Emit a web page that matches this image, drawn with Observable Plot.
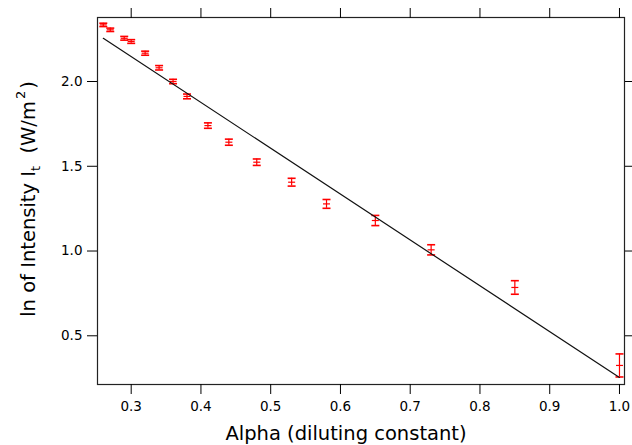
<!DOCTYPE html>
<html><head><meta charset="utf-8">
<script src="https://cdn.jsdelivr.net/npm/d3@7"></script>
<script src="https://cdn.jsdelivr.net/npm/@observablehq/plot@0.6"></script>
<style>body{margin:0;background:#fff}</style>
</head><body><div id="chart"></div>
<script>
const alpha = [0.26,0.27,0.29,0.30,0.32,0.34,0.36,0.38,0.41,0.44,0.48,0.53,0.58,0.65,0.73,0.85,1.00];
const lnI   = [2.334,2.305,2.255,2.236,2.167,2.081,2.000,1.912,1.740,1.642,1.524,1.406,1.278,1.180,1.007,0.785,0.325];
const err   = [0.010,0.010,0.011,0.011,0.012,0.013,0.013,0.014,0.016,0.018,0.019,0.023,0.026,0.030,0.030,0.040,0.068];
const fitX = [0.26, 1.00];
const fitY = [2.255, 0.254];
const xTicks = [0.3,0.4,0.5,0.6,0.7,0.8,0.9,1.0];
const yTicks = [0.5,1.0,1.5,2.0];

const data = alpha.map((a,i)=>({x:a, y:lnI[i], lo:lnI[i]-err[i], hi:lnI[i]+err[i]}));
const fit = fitX.map((x,i)=>({x, y:fitY[i]}));
const cap = {draw(ctx, size){ const r = Math.sqrt(size/Math.PI); ctx.moveTo(-r,0); ctx.lineTo(r,0); }};
const red = "#ff0000";

const svg = Plot.plot({
  width: 632, height: 445,
  marginLeft: 97, marginRight: 8, marginTop: 17, marginBottom: 61,
  style: {fontFamily: "DejaVu Sans", fontSize: "13.5px", color: "black", background: "white"},
  x: {domain: [0.2517, 1.0072]},
  y: {domain: [0.2126, 2.3776]},
  marks: [
    Plot.ruleX(data, {x:"x", y1:"lo", y2:"hi", stroke: red, strokeWidth: 1.2}),
    Plot.dot(data, {x:"x", y:"hi", symbol: cap, r: 4, stroke: red, strokeWidth: 1.6}),
    Plot.dot(data, {x:"x", y:"lo", symbol: cap, r: 4, stroke: red, strokeWidth: 1.6}),
    Plot.dot(data, {x:"x", y:"y", symbol: cap, r: 3.5, stroke: red, strokeWidth: 1.2}),
    Plot.line(fit, {x:"x", y:"y", stroke: "#111", strokeWidth: 1.2}),
    Plot.frame({stroke: "#222", strokeWidth: 1.2}),
    Plot.axisX({anchor: "bottom", ticks: xTicks, tickSize: 10, tickPadding: 7, tickFormat: d3.format(".1f"), label: null}),
    Plot.axisX({anchor: "top", ticks: xTicks, tickSize: 10, tickFormat: () => "", label: null}),
    Plot.axisY({anchor: "left", ticks: yTicks, tickSize: 10, tickPadding: 5, tickFormat: d3.format(".1f"), label: null}),
    Plot.axisY({anchor: "right", ticks: yTicks, tickSize: 10, tickFormat: () => "", label: null})
  ]
});

const s = d3.select(svg);
s.append("text")
  .attr("x", 346).attr("y", 440)
  .attr("text-anchor", "middle")
  .attr("font-family", "DejaVu Sans").attr("font-size", 19.5).attr("fill", "black")
  .text("Alpha (diluting constant)");

const yl = s.append("text")
  .attr("transform", "translate(35,199) rotate(-90)")
  .attr("text-anchor", "middle")
  .attr("font-family", "DejaVu Sans").attr("font-size", 19.5).attr("fill", "black");
yl.append("tspan").text("ln of Intensity I");
yl.append("tspan").attr("font-size", 13).attr("dy", 5).text("t");
yl.append("tspan").attr("dy", -5).text("\u00a0\u00a0(W/m");
yl.append("tspan").attr("font-size", 13).attr("dy", -10).attr("dx", 2).text("2");
yl.append("tspan").attr("dy", 10).attr("dx", 2).text(")");

document.getElementById("chart").appendChild(svg);
</script>
</body></html>
